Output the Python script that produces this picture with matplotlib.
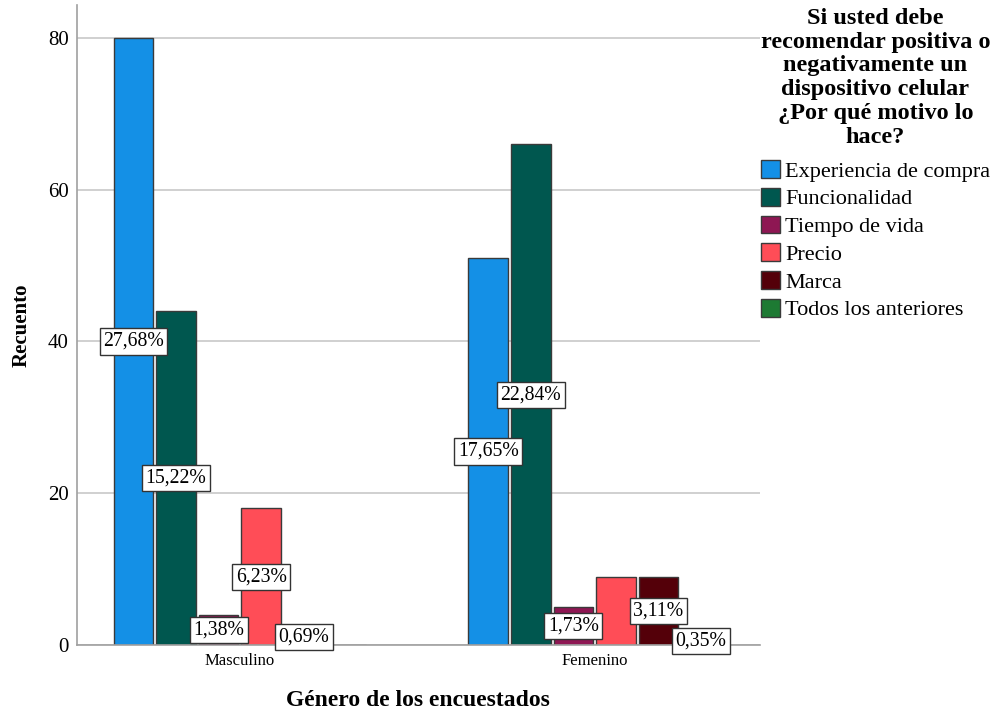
import numpy as np
import matplotlib
matplotlib.use("Agg")
import matplotlib.pyplot as plt

plt.rcParams['font.family'] = ['Liberation Serif', 'DejaVu Serif']

# Data
groups = ["Masculino", "Femenino"]
categories = ["Experiencia de compra", "Funcionalidad", "Tiempo de vida",
              "Precio", "Marca", "Todos los anteriores"]
masculino = [80, 44, 4, 18, 2, 0]
femenino = [51, 66, 5, 9, 9, 1]
pct_masculino = ["27,68%", "15,22%", "1,38%", "6,23%", "0,69%", ""]
pct_femenino = ["17,65%", "22,84%", "1,73%", "", "3,11%", "0,35%"]
colors = ["#1490e6", "#00574f", "#8e1753", "#ff4d57", "#540009", "#1d7a33"]

counts = [masculino, femenino]
pcts = [pct_masculino, pct_femenino]

fig = plt.figure(figsize=(9.98, 7.14), dpi=100)
ax = fig.add_axes([0.0772, 0.0966, 0.684, 0.896])

slot = 0.120
width = 0.112
x = np.arange(len(groups))
for i, cat in enumerate(categories):
    vals = [c[i] for c in counts]
    pos = x + (i - 2.5) * slot
    ax.bar(pos, vals, width, color=colors[i], edgecolor="#3a3a3a",
           linewidth=1, label=cat, zorder=2)
    for g in range(len(groups)):
        txt = pcts[g][i]
        if txt:
            ax.text(pos[g], vals[g] / 2, txt, ha="center", va="center",
                    fontsize=14.2, zorder=4,
                    bbox=dict(boxstyle="square,pad=0.18", fc="white",
                              ec="#333333", lw=1))

ax.set_xlim(-0.459, 1.465)
ax.set_ylim(0, 84.3)
ax.set_yticks([0, 20, 40, 60, 80])
ax.set_xticks(x)
ax.set_xticklabels(groups, fontsize=12)
ax.tick_params(axis="y", labelsize=15, length=0, pad=6)
ax.tick_params(axis="x", length=0, pad=6)
ax.yaxis.grid(True, color="#c8c8c8", linewidth=1.2, zorder=0)
ax.set_axisbelow(True)
for s in ["top", "right"]:
    ax.spines[s].set_visible(False)
ax.spines["left"].set_color("#a0a0a0")
ax.spines["bottom"].set_color("#a0a0a0")
ax.spines["left"].set_linewidth(1.2)
ax.spines["bottom"].set_linewidth(1.2)

ax.set_ylabel("Recuento", fontsize=15, fontweight="bold", labelpad=12)
ax.set_xlabel("Género de los encuestados", fontsize=17, fontweight="bold",
              labelpad=15)

leg = fig.legend(loc="upper left", bbox_to_anchor=(0.760, 0.992),
                 frameon=False, fontsize=16,
                 title="Si usted debe\nrecomendar positiva o\nnegativamente un\n"
                       "dispositivo celular\n¿Por qué motivo lo\nhace?",
                 title_fontproperties={"weight": "bold", "size": 17.5},
                 handlelength=0.85, handleheight=0.85, handletextpad=0.25,
                 labelspacing=0.28, borderaxespad=0, borderpad=0.1)
leg.get_title().set_multialignment("center")
leg.get_title().set_linespacing(1.17)
leg._legend_box.sep = 9

fig.savefig("out.png", dpi=100)
